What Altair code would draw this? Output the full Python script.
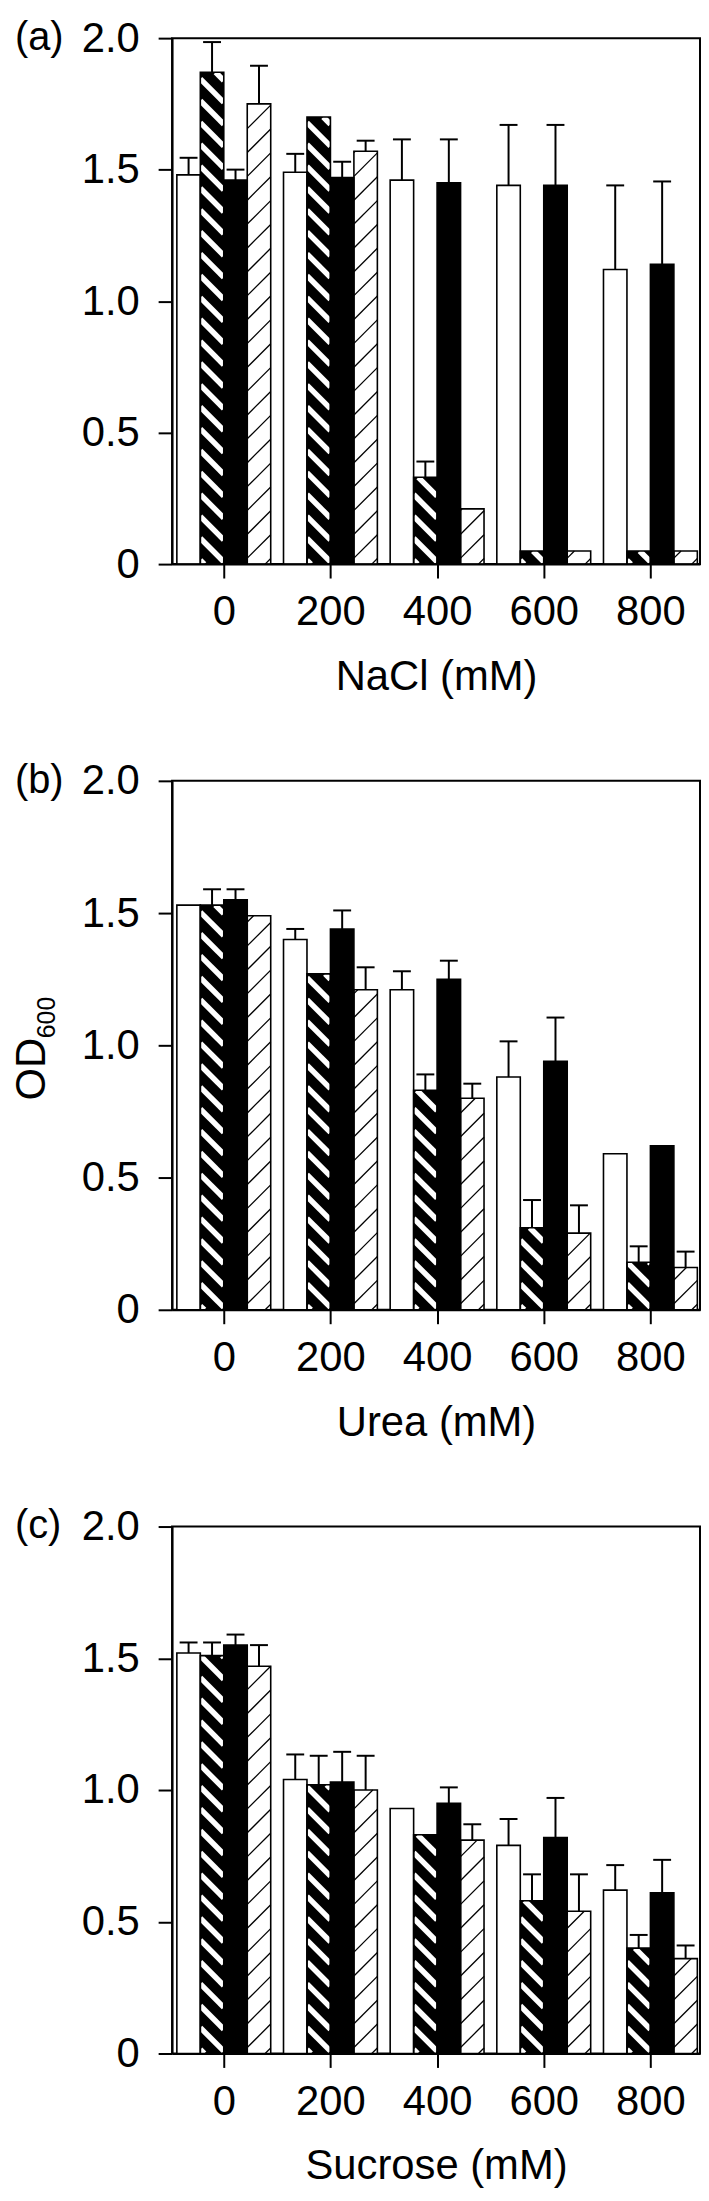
import altair as alt
import numpy as np
import pandas as pd

# ---------------- data ----------------
conc = [0, 200, 400, 600, 800]
series = ["open", "thick", "solid", "thin"]

nacl_open = [1.48, 1.49, 1.46, 1.44, 1.12]
nacl_open_err = [0.065, 0.07, 0.155, 0.23, 0.32]
nacl_thick = [1.87, 1.70, 0.33, 0.05, 0.05]
nacl_thick_err = [0.115, 0.0, 0.06, 0.0, 0.0]
nacl_solid = [1.46, 1.47, 1.45, 1.44, 1.14]
nacl_solid_err = [0.04, 0.06, 0.165, 0.23, 0.315]
nacl_thin = [1.75, 1.57, 0.21, 0.05, 0.05]
nacl_thin_err = [0.145, 0.04, 0.0, 0.0, 0.0]

urea_open = [1.53, 1.40, 1.21, 0.88, 0.59]
urea_open_err = [0.0, 0.04, 0.07, 0.135, 0.0]
urea_thick = [1.53, 1.27, 0.83, 0.31, 0.18]
urea_thick_err = [0.06, 0.0, 0.06, 0.105, 0.06]
urea_solid = [1.55, 1.44, 1.25, 0.94, 0.62]
urea_solid_err = [0.04, 0.07, 0.07, 0.165, 0.0]
urea_thin = [1.49, 1.21, 0.80, 0.29, 0.16]
urea_thin_err = [0.0, 0.085, 0.055, 0.105, 0.06]

sucrose_open = [1.52, 1.04, 0.93, 0.79, 0.62]
sucrose_open_err = [0.04, 0.095, 0.0, 0.10, 0.095]
sucrose_thick = [1.51, 1.02, 0.83, 0.58, 0.40]
sucrose_thick_err = [0.05, 0.11, 0.0, 0.10, 0.05]
sucrose_solid = [1.55, 1.03, 0.95, 0.82, 0.61]
sucrose_solid_err = [0.04, 0.115, 0.06, 0.15, 0.125]
sucrose_thin = [1.47, 1.00, 0.81, 0.54, 0.36]
sucrose_thin_err = [0.08, 0.13, 0.06, 0.14, 0.05]

# ---------------- layout ----------------
FONT = "Liberation Sans"
PLOT_W = 531
X_MIN, X_MAX = -0.485, 4.465
Y_MAX = 2.0
BAR_W = 0.22
CAP_PX = 9.0
PX_X = PLOT_W / (X_MAX - X_MIN)
CAP = CAP_PX / PX_X


def bars_table(means, errs):
    rows = []
    for g in range(len(conc)):
        for k, s in enumerate(series):
            x0 = g + (k - 2) * BAR_W
            xc = x0 + BAR_W / 2
            m = means[k][g]
            e = errs[k][g]
            rows.append(dict(g=g, series=s, x0=x0, x1=x0 + BAR_W, xc=xc,
                             cl=xc - CAP, cr=xc + CAP, y=m, base=0.0,
                             top=m + e, err=e))
    return pd.DataFrame(rows)


def hatch_table(bars, direction, period, phase, px_y, slope=1.0):
    rows = []
    for _, b in bars.iterrows():
        W = (b.x1 - b.x0) * PX_X
        H = b.y * px_y
        s = slope
        for c in phase + period * np.arange(-40, 60):
            if direction == "down":
                if not (0 < c < H + s * W):
                    continue
                sx, sy = (0.0, c) if c <= H else ((c - H) / s, H)
                ex, ey = (W, c - s * W) if c - s * W >= 0 else (c / s, 0.0)
            else:
                if not (-s * W < c < H):
                    continue
                sx, sy = (0.0, c) if c >= 0 else (-c / s, 0.0)
                ex, ey = (W, c + s * W) if c + s * W <= H else ((H - c) / s, H)
            if np.hypot(ex - sx, ey - sy) < 0.8:
                continue
            rows.append(dict(hx0=b.x0 + sx / PX_X, hy0=sy / px_y,
                             hx1=b.x0 + ex / PX_X, hy1=ey / px_y))
    return pd.DataFrame(rows)


xs = alt.Scale(domain=[X_MIN, X_MAX], nice=False, zero=False)
ys = alt.Scale(domain=[0, Y_MAX], nice=False, zero=True)
label_js = "[" + ",".join("'%d'" % c for c in conc) + "][datum.value]"


def panel(means, errs, tag, xtitle, plot_h, ylabel=False):
    px_y = plot_h / Y_MAX
    bars = bars_table(means, errs)
    xaxis = alt.Axis(values=list(range(len(conc))), labelExpr=label_js,
                     title=xtitle, grid=False, labelFlush=False,
                     tickSize=14, labelPadding=14, titlePadding=24,
                     labelFontSize=42, titleFontSize=42, zindex=1)
    yaxis = alt.Axis(values=[0, 0.5, 1.0, 1.5, 2.0],
                     labelExpr="datum.value == 0 ? '0' : format(datum.value, '.1f')",
                     title=None, grid=False, labelFlush=False, tickSize=14,
                     labelPadding=19, labelFontSize=42, zindex=1)

    def rect_layer(df, fill):
        return alt.Chart(df).mark_rect(fill=fill).encode(
            x=alt.X("x0:Q", scale=xs, axis=xaxis), x2="x1:Q",
            y=alt.Y("y:Q", scale=ys, axis=yaxis), y2="base:Q")

    thick = bars[bars.series == "thick"]
    thin = bars[bars.series == "thin"]
    opn = bars[bars.series == "open"]
    solid = bars[bars.series == "solid"]

    layers = [rect_layer(thick, "black"), rect_layer(thin, "white")]

    th = hatch_table(thick, "down", 22.0, 4.0, px_y)
    layers.append(alt.Chart(th).mark_rule(color="white", strokeWidth=5.5).encode(
        x=alt.X("hx0:Q", scale=xs, axis=xaxis), x2="hx1:Q",
        y=alt.Y("hy0:Q", scale=ys, axis=yaxis), y2="hy1:Q"))
    tn = hatch_table(thin, "up", 24.0, 6.0, px_y)
    layers.append(alt.Chart(tn).mark_rule(color="black", strokeWidth=1.3).encode(
        x=alt.X("hx0:Q", scale=xs, axis=xaxis), x2="hx1:Q",
        y=alt.Y("hy0:Q", scale=ys, axis=yaxis), y2="hy1:Q"))

    layers.append(rect_layer(opn, "white"))
    layers.append(rect_layer(solid, "black"))

    layers.append(alt.Chart(bars).mark_rect(fillOpacity=0, stroke="black", strokeWidth=1.6).encode(
        x=alt.X("x0:Q", scale=xs, axis=xaxis), x2="x1:Q",
        y=alt.Y("y:Q", scale=ys, axis=yaxis), y2="base:Q"))

    eb = bars[bars.err > 0]
    layers.append(alt.Chart(eb).mark_rule(color="black", strokeWidth=2).encode(
        x=alt.X("xc:Q", scale=xs, axis=xaxis),
        y=alt.Y("y:Q", scale=ys, axis=yaxis), y2="top:Q"))
    layers.append(alt.Chart(eb).mark_rule(color="black", strokeWidth=2).encode(
        x=alt.X("cl:Q", scale=xs, axis=xaxis), x2="cr:Q",
        y=alt.Y("top:Q", scale=ys, axis=yaxis)))

    layers.append(alt.Chart(pd.DataFrame({"t": [tag]})).mark_text(
        align="left", baseline="middle", fontSize=40, font=FONT, color="black"
    ).encode(text="t:N", x=alt.value(-158), y=alt.value(0)))

    if ylabel:
        layers.append(alt.Chart(pd.DataFrame({"t": ["OD"]})).mark_text(
            align="center", baseline="middle", fontSize=42, font=FONT,
            color="black", angle=270
        ).encode(text="t:N", x=alt.value(-141), y=alt.value(290)))
        layers.append(alt.Chart(pd.DataFrame({"t": ["600"]})).mark_text(
            align="center", baseline="middle", fontSize=25, font=FONT,
            color="black", angle=270
        ).encode(text="t:N", x=alt.value(-126), y=alt.value(238)))

    return alt.layer(*layers).properties(width=PLOT_W, height=plot_h)


pa = panel([nacl_open, nacl_thick, nacl_solid, nacl_thin],
           [nacl_open_err, nacl_thick_err, nacl_solid_err, nacl_thin_err],
           "(a)", "NaCl (mM)", 529)
pb = panel([urea_open, urea_thick, urea_solid, urea_thin],
           [urea_open_err, urea_thick_err, urea_solid_err, urea_thin_err],
           "(b)", "Urea (mM)", 532, ylabel=True)
pc = panel([sucrose_open, sucrose_thick, sucrose_solid, sucrose_thin],
           [sucrose_open_err, sucrose_thick_err, sucrose_solid_err, sucrose_thin_err],
           "(c)", "Sucrose (mM)", 530)

chart = alt.vconcat(pa, pb, pc, spacing=61).properties(
    padding={"left": 2, "top": 2, "right": 0, "bottom": 0},
    background="white",
).configure_view(
    stroke="black", strokeWidth=2
).configure_axis(
    domainColor="black", domainWidth=2, tickColor="black", tickWidth=2,
    labelColor="black", titleColor="black", labelFont=FONT, titleFont=FONT,
    titleFontWeight="normal",
)

chart.save("out.html", embed_options={"renderer": "svg", "actions": False})
